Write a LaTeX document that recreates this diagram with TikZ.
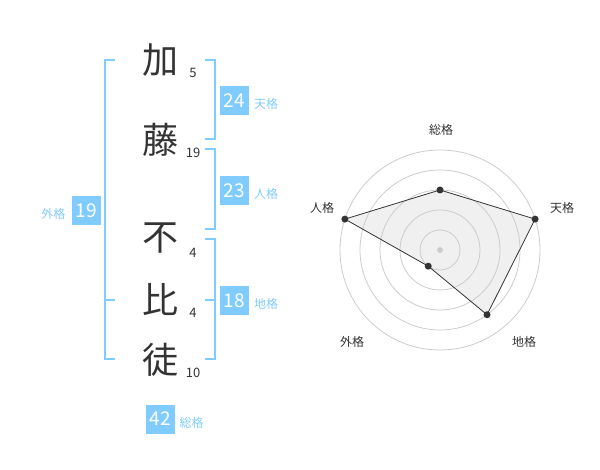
\documentclass[tikz,border=0pt]{standalone}
\usepackage{fontspec}
\setmainfont{Noto Sans CJK JP}
\usepackage{tikz}

\definecolor{kakublue}{RGB}{128,204,255}
\definecolor{inkgray}{RGB}{51,51,51}
\definecolor{ringgray}{RGB}{204,204,204}
\definecolor{areagray}{RGB}{240,240,240}

\tikzset{
  kanji/.style={text=inkgray, inner sep=0pt, font=\fontsize{36}{36}\selectfont},
  strokes/.style={text=inkgray, inner sep=0pt, font=\fontsize{13}{13}\selectfont},
  numbox/.style={fill=kakublue, text=white, minimum size=29pt, inner sep=0pt, font=\fontsize{19}{19}\selectfont},
  kakulabel/.style={text=kakublue, inner sep=0pt, font=\fontsize{12}{12}\selectfont},
  bracket/.style={draw=kakublue, line width=2pt},
  ring/.style={draw=ringgray, line width=0.8pt},
  axislabel/.style={text=inkgray, inner sep=0pt, font=\fontsize{12}{12}\selectfont},
  vertex/.style={circle, fill=inkgray, inner sep=0pt, minimum size=7pt}
}

\begin{document}
\begin{tikzpicture}[x=1pt, y=-1pt]
  \useasboundingbox (0,0) rectangle (600,470);

  % name column
  \node[kanji] (k1) at (160, 60) {加};
  \node[kanji] (k2) at (160, 140) {藤};
  \node[kanji] (k3) at (160, 238) {不};
  \node[kanji] (k4) at (160, 300) {比};
  \node[kanji] (k5) at (160, 360) {徒};
  \node[strokes] (s1) at (193, 73) {5};
  \node[strokes] (s2) at (193, 153) {19};
  \node[strokes] (s3) at (193, 253) {4};
  \node[strokes] (s4) at (193, 313) {4};
  \node[strokes] (s5) at (193, 373) {10};

  % brackets
  \draw[bracket] (205, 60) -- (215, 60) -- (215, 139) -- (205, 139);
  \draw[bracket] (205, 149) -- (215, 149) -- (215, 229) -- (205, 229);
  \draw[bracket] (205, 239) -- (215, 239) -- (215, 359) -- (205, 359);
  \draw[bracket] (205, 300) -- (215, 300);
  \draw[bracket] (115, 60) -- (105, 60) -- (105, 359) -- (115, 359);
  \draw[bracket] (105, 300) -- (115, 300);

  % totals
  \node[numbox] (ten) at (234.5, 100.5) {24};
  \node[kakulabel] (tenl) at (266, 104) {天格};
  \node[numbox] (jin) at (234.5, 190.5) {23};
  \node[kakulabel] (jinl) at (266, 194) {人格};
  \node[numbox] (chi) at (234.5, 300.5) {18};
  \node[kakulabel] (chil) at (266, 304) {地格};
  \node[numbox] (gai) at (86.5, 210.5) {19};
  \node[kakulabel] (gail) at (53.5, 213.5) {外格};
  \node[numbox] (sou) at (160.5, 419) {42};
  \node[kakulabel] (soul) at (191.5, 422.5) {総格};

  % radar chart
  \coordinate (c) at (440, 250);
  \coordinate (psou) at ([shift={(90:60pt)}]c);
  \coordinate (pten) at ([shift={(18:100pt)}]c);
  \coordinate (pchi) at ([shift={(-54:80pt)}]c);
  \coordinate (pgai) at ([shift={(-126:20pt)}]c);
  \coordinate (pjin) at ([shift={(162:100pt)}]c);

  \fill[areagray] (psou) -- (pten) -- (pchi) -- (pgai) -- (pjin) -- cycle;
  \foreach \r in {20,40,60,80,100}
    \draw[ring] (c) circle (\r pt);
  \fill[ringgray] (c) circle (3pt);
  \draw[inkgray, line width=0.8pt]
    (psou) -- (pten) -- (pchi) -- (pgai) -- (pjin) -- cycle;
  \foreach \p in {psou,pten,pchi,pgai,pjin}
    \node[vertex] at (\p) {};

  \node[axislabel] (asou) at (441, 130) {総格};
  \node[axislabel] (aten) at (562, 208) {天格};
  \node[axislabel] (ajin) at (322, 208) {人格};
  \node[axislabel] (achi) at (524, 342) {地格};
  \node[axislabel] (agai) at (352, 342) {外格};

\end{tikzpicture}
\end{document}
